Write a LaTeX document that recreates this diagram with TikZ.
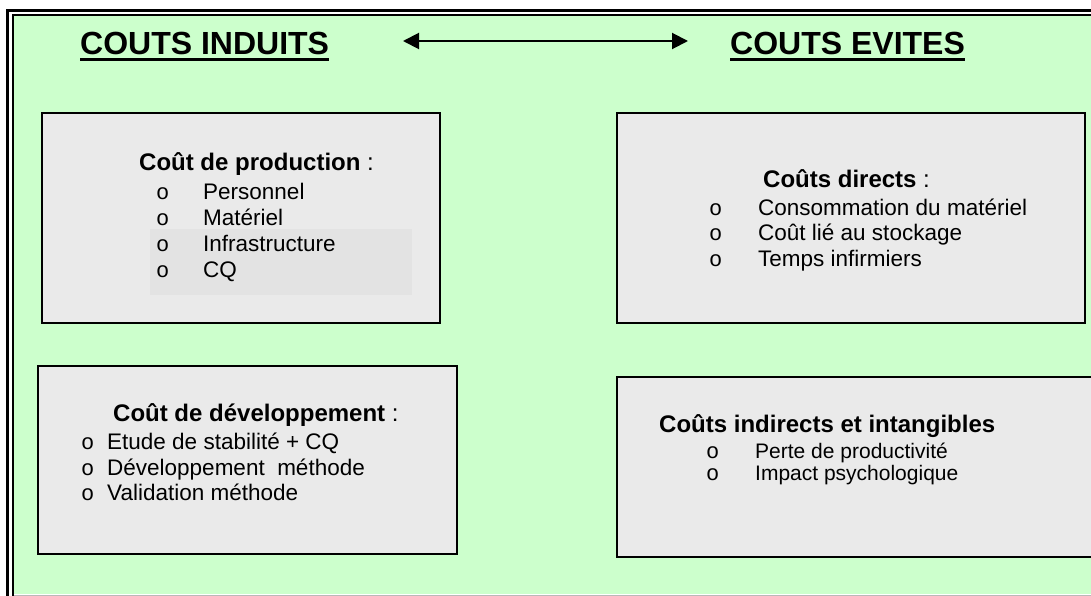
\documentclass[tikz,border=0pt]{standalone}
\usepackage{fontspec}
\setmainfont{Liberation Sans}
\newfontfamily\bulletfont{Liberation Mono}
\usetikzlibrary{arrows.meta}
\definecolor{bggreen}{HTML}{CCFFCC}
\definecolor{boxgrey}{HTML}{EAEAEA}
\definecolor{shadegrey}{HTML}{E3E3E3}
\tikzset{
  costbox/.style={draw=black, line width=2pt, fill=boxgrey, rectangle, inner sep=0pt},
  txt/.style={anchor=base west, inner sep=0pt, font=\fontsize{22.5}{26}\selectfont},
  smalltxt/.style={anchor=base west, inner sep=0pt, font=\fontsize{21}{22}\selectfont},
  bul/.style={anchor=base west, inner sep=0pt, font=\fontsize{22}{26}\selectfont\bulletfont},
  head/.style={anchor=base west, inner sep=0pt, font=\fontsize{24}{28}\selectfont},
  title/.style={anchor=base west, inner sep=0pt, font=\fontsize{32}{36}\selectfont\bfseries},
  uline/.style={line width=3pt},
  bigarrow/.style={line width=2pt, {Triangle[length=16pt,width=16pt]}-{Triangle[length=16pt,width=16pt]}}
}
\begin{document}
\begin{tikzpicture}[x=1pt,y=-1pt]
\useasboundingbox (0,0) rectangle (1091,596);
\fill[white] (0,0) rectangle (1091,596);
\fill[bggreen] (14,16) rectangle (1091,594);
\draw[line width=3pt] (7.5,596) -- (7.5,10.5) -- (1091,10.5);
\draw[line width=2pt] (13,596) -- (13,15) -- (1091,15);
\draw[gray!55, line width=1pt] (14,595) -- (1091,595);

% titles
\node[title] (ti) at (80,55) {COUTS INDUITS};
\node[title] (te) at (730,55) {COUTS EVITES};
\draw[uline] ([yshift=-5pt]ti.base west) -- ([yshift=-5pt]ti.base east);
\draw[uline] ([yshift=-5pt]te.base west) -- ([yshift=-5pt]te.base east);
\coordinate (al) at (403,41);
\coordinate (ar) at (688,41);
\draw[bigarrow] (al) -- (ar);

% boxes
\node[costbox, minimum width=398pt, minimum height=210pt] (b1) at (241,218) {};
\node[costbox, minimum width=468pt, minimum height=210pt] (b2) at (851,218) {};
\node[costbox, minimum width=419pt, minimum height=188pt] (b3) at (247.5,460) {};
\node[costbox, minimum width=478pt, minimum height=180pt] (b4) at (856,467) {};
\fill[shadegrey] (150,229) rectangle (412,295);

% box 1
\node[head] (h1) at (139,171) {\textbf{Coût de production} :};
\node[bul] (o11) at (156,199) {o};
\node[txt] (t11) at (203,199) {Personnel};
\node[bul] (o12) at (156,225) {o};
\node[txt] (t12) at (203,225) {Matériel};
\node[bul] (o13) at (156,251) {o};
\node[txt] (t13) at (203,251) {Infrastructure};
\node[bul] (o14) at (156,277) {o};
\node[txt] (t14) at (203,277) {CQ};

% box 2
\node[head] (h2) at (763,187) {\textbf{Coûts directs} :};
\node[bul] (o21) at (709,215) {o};
\node[txt] (t21) at (758,215) {Consommation du matériel};
\node[bul] (o22) at (709,240.5) {o};
\node[txt] (t22) at (758,240.5) {Coût lié au stockage};
\node[bul] (o23) at (709,266) {o};
\node[txt] (t23) at (758,266) {Temps infirmiers};

% box 3
\node[head] (h3) at (113,421) {\textbf{Coût de développement} :};
\node[bul] (o31) at (81,449) {o};
\node[txt] (t31) at (107,449) {Etude de stabilité + CQ};
\node[bul] (o32) at (81,475) {o};
\node[txt] (t32) at (107,475) {Développement\ \ méthode};
\node[bul] (o33) at (81,500.5) {o};
\node[txt] (t33) at (107,500.5) {Validation méthode};

% box 4
\node[head] (h4) at (659,432) {\textbf{Coûts indirects et intangibles}};
\node[bul] (o41) at (706,458) {o};
\node[smalltxt] (t41) at (755,458) {Perte de productivité};
\node[bul] (o42) at (706,480.5) {o};
\node[smalltxt] (t42) at (755,480.5) {Impact psychologique};
\end{tikzpicture}
\end{document}
